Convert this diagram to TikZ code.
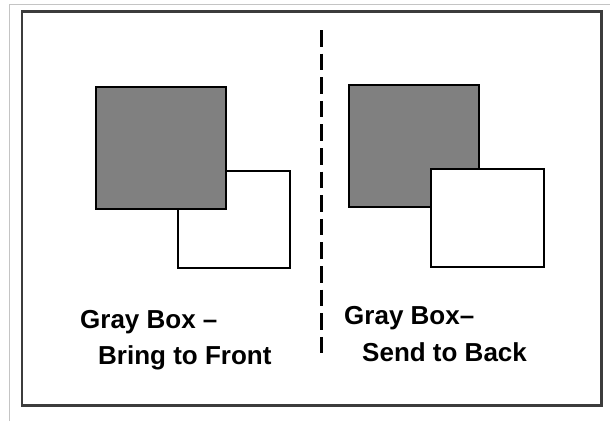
\documentclass[tikz,border=0pt]{standalone}
\usepackage{fontspec}
\newfontfamily\boxfont{Liberation Sans}
\usepackage{xcolor}
\definecolor{BoxGray}{HTML}{808080}
\definecolor{FrameGray}{HTML}{3C3C3C}
\definecolor{EdgeGray}{HTML}{C4C4C4}

\begin{document}
\begin{tikzpicture}[x=1pt, y=-1pt,
    box/.style={draw=black, line width=2pt},
    caption/.style={anchor=base west, inner sep=0pt, font=\boxfont\bfseries\fontsize{26}{30}\selectfont}]
\useasboundingbox (0,0) rectangle (610,421);
\fill[white] (0,0) rectangle (610,421);
\draw[EdgeGray, line width=1pt] (9,421) -- (9,4.5) -- (610,4.5);
\draw[FrameGray, line width=2.2pt] (22,11.5) rectangle (601.5,405.5);
\draw[black, line width=3pt, dash pattern=on 16.5pt off 7.1pt] (321,30) -- (321,356);
% bring to front
\filldraw[box, fill=white] (178,171) rectangle (290,268);
\filldraw[box, fill=BoxGray] (96,87) rectangle (226,209);
% send to back
\filldraw[box, fill=BoxGray] (349,85) rectangle (479,207);
\filldraw[box, fill=white] (431,169) rectangle (544,267);
\node[caption] (frontTop) at (80,328.5) {Gray Box –};
\node[caption] (frontBot) at (98,364) {Bring to Front};
\node[caption] (backTop) at (344,324.7) {Gray Box–};
\node[caption] (backBot) at (362,361.5) {Send to Back};
\end{tikzpicture}
\end{document}
